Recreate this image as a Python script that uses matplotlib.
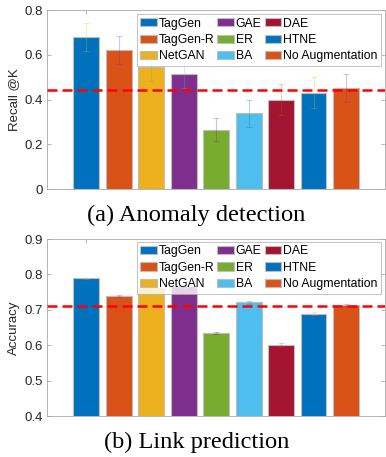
import matplotlib
matplotlib.use('Agg')
import matplotlib.pyplot as plt

plt.rcParams['font.family'] = ['Liberation Sans', 'DejaVu Sans']

METHODS = ["TagGen", "TagGen-R", "NetGAN", "GAE", "ER", "BA", "DAE", "HTNE", "No Augmentation"]

# (a) anomaly detection
RECALL = [0.678, 0.622, 0.546, 0.514, 0.265, 0.338, 0.400, 0.430, 0.451]
RECALL_ERR = [0.063, 0.064, 0.063, 0.064, 0.052, 0.062, 0.070, 0.070, 0.063]
RECALL_BASE = 0.443

# (b) link prediction
ACC = [0.789, 0.739, 0.762, 0.766, 0.634, 0.721, 0.600, 0.689, 0.713]
ACC_ERR = [0.002, 0.004, 0.003, 0.003, 0.002, 0.004, 0.006, 0.005, 0.004]
ACC_BASE = 0.711

MATLAB = ["#0072BD", "#D95319", "#EDB120", "#7E2F8E", "#77AC30",
          "#4DBEEE", "#A2142F"]
AXC = "#262626"
EDGE = "#BDBDBD"
SPINE = "#a8a8a8"


def draw(ax, vals, errs, base, ylim, yticks, ylabel, caption, cap_y, legend_anchor):
    x = list(range(1, len(vals) + 1))
    for i, (xi, v, e) in enumerate(zip(x, vals, errs)):
        ax.bar(xi, v, width=0.8, color=MATLAB[i % 7], edgecolor=EDGE,
               linewidth=0.8, label=METHODS[i], zorder=2)
        ax.errorbar(xi, v, yerr=e, fmt="none", ecolor=MATLAB[(i + 2) % 7],
                    alpha=0.28, elinewidth=0.8, capsize=2, capthick=0.8, zorder=3)
    ax.axhline(base, color="red", linestyle=(0, (4, 2)), linewidth=1.8, zorder=4)
    ax.set_xlim(-0.2, 10.2)
    ax.set_ylim(*ylim)
    ax.set_yticks(yticks)
    ax.set_yticklabels([f"{t:g}" for t in yticks])
    ax.set_xticks([1])
    ax.set_xticklabels([""])
    ax.tick_params(direction="in", top=True, right=True, length=3,
                   colors=SPINE, labelcolor=AXC, labelsize=9.5, width=0.6, pad=3)
    for s in ax.spines.values():
        s.set_color(SPINE)
        s.set_linewidth(0.6)
    ax.set_ylabel(ylabel, fontsize=9.5, color=AXC, labelpad=3)
    leg = ax.legend(ncol=3, loc="upper right", bbox_to_anchor=legend_anchor,
                    fontsize=8.8, frameon=True, fancybox=False, edgecolor=SPINE,
                    handlelength=1.35, handleheight=0.65, handletextpad=0.15,
                    columnspacing=0.25, labelspacing=0.36, borderpad=0.3,
                    borderaxespad=0)
    leg.get_frame().set_linewidth(0.6)
    leg.set_zorder(5)
    ax.text(0.442, cap_y, caption, transform=ax.transAxes, ha="center", va="center",
            fontsize=17.6, family="Liberation Serif", color="black")


fig = plt.figure(figsize=(3.86, 4.57), dpi=100)
ax1 = fig.add_axes([0.1218, 0.5864, 0.8756, 0.3917])
ax2 = fig.add_axes([0.1218, 0.0897, 0.8756, 0.3873])

draw(ax1, RECALL, RECALL_ERR, RECALL_BASE, (0, 0.8), [0, 0.2, 0.4, 0.6, 0.8],
     "Recall @K", "(a) Anomaly detection", -0.145, (0.988, 0.978))
draw(ax2, ACC, ACC_ERR, ACC_BASE, (0.4, 0.9), [0.4, 0.5, 0.6, 0.7, 0.8, 0.9],
     "Accuracy", "(b) Link prediction", -0.15, (0.988, 0.985))

fig.savefig("out.png", dpi=100)
